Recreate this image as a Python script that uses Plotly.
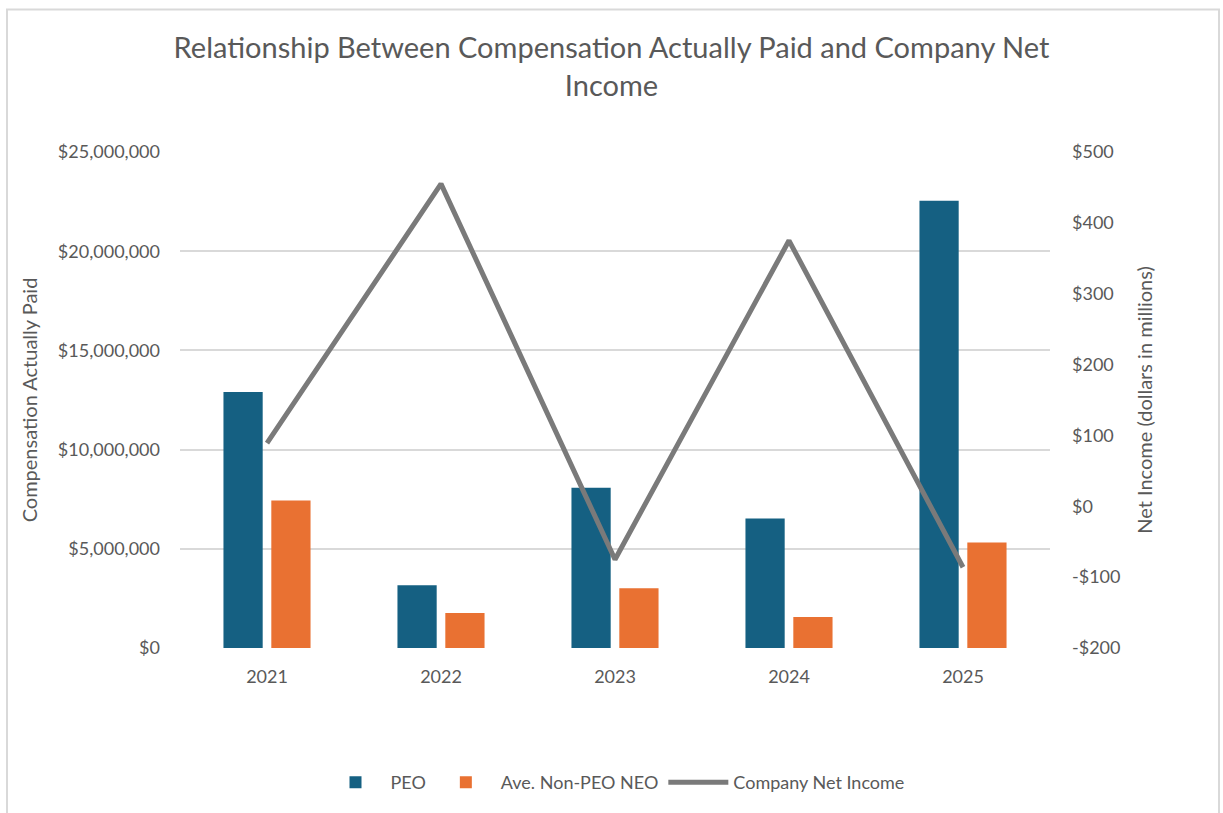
import plotly.graph_objects as go

years = ["2021", "2022", "2023", "2024", "2025"]
peo = [12900000, 3160000, 8080000, 6530000, 22540000]
non_peo_neo = [7430000, 1760000, 3010000, 1560000, 5320000]
net_income = [89, 455, -75, 375, -86]

right_tick_vals = [-200, -100, 0, 100, 200, 300, 400, 500]
right_tick_text = ["-$200", "-$100", "$0", "$100", "$200", "$300", "$400", "$500"]

FONT = "Lato, 'Open Sans', sans-serif"
TXT = "#595959"

fig = go.Figure()
fig.add_trace(go.Bar(x=years, y=peo, name="PEO", marker=dict(color="#156082", line=dict(width=0))))
fig.add_trace(go.Bar(x=years, y=non_peo_neo, name="Ave. Non-PEO NEO", marker=dict(color="#E97132", line=dict(width=0))))
fig.add_trace(go.Scatter(x=years, y=net_income, name="Company Net Income", yaxis="y2",
                         mode="lines", line=dict(color="#7A7A7A", width=5)))

L, R, T, B = 180, 173, 152, 163
W, H = 1223, 813
pw, ph = W - L - R, H - T - B

def px2x(px):
    return (px - L) / pw

def py2y(py):
    return (H - B - py) / ph

fig.update_layout(
    width=W, height=H,
    margin=dict(l=L, r=R, t=T, b=B),
    paper_bgcolor="white", plot_bgcolor="white",
    font=dict(family=FONT, color=TXT, size=18),
    title=dict(text="Relationship Between Compensation Actually Paid and Company Net<br>Income",
               x=0.5, xanchor="center", y=1 - 58 / H, yanchor="middle",
               font=dict(size=29, color=TXT, family=FONT)),
    barmode="group", bargap=0.45, bargroupgap=0.18,
    xaxis=dict(showgrid=False, showline=False, ticks="", ticklabelstandoff=16,
               tickfont=dict(size=18, color=TXT)),
    yaxis=dict(range=[0, 25000000], dtick=5000000, tickformat="$,", showgrid=True,
               gridcolor="#D9D9D9", gridwidth=1.5, zeroline=False, showline=False,
               ticks="", ticklen=0, ticklabelstandoff=19, tickfont=dict(size=18, color=TXT),
               title=dict(text="Compensation Actually Paid", font=dict(size=20, color=TXT), standoff=14)),
    yaxis2=dict(range=[-200, 500], overlaying="y", side="right", tickvals=right_tick_vals,
                ticktext=right_tick_text, showgrid=False, zeroline=False, showline=False,
                ticklabelstandoff=21, tickfont=dict(size=18, color=TXT),
                title=dict(text="Net Income (dollars in millions)", font=dict(size=20, color=TXT), standoff=18)),
    legend=dict(orientation="h", x=0.5, xanchor="center", y=py2y(785), yanchor="middle",
                font=dict(size=18, color=TXT), itemwidth=60, traceorder="normal"),
    shapes=[dict(type="rect", xref="paper", yref="paper", x0=px2x(7), x1=px2x(1219),
                 y0=py2y(830), y1=py2y(9), line=dict(color="#D9D9D9", width=2), layer="below")],
)

fig.write_html("out.html")
